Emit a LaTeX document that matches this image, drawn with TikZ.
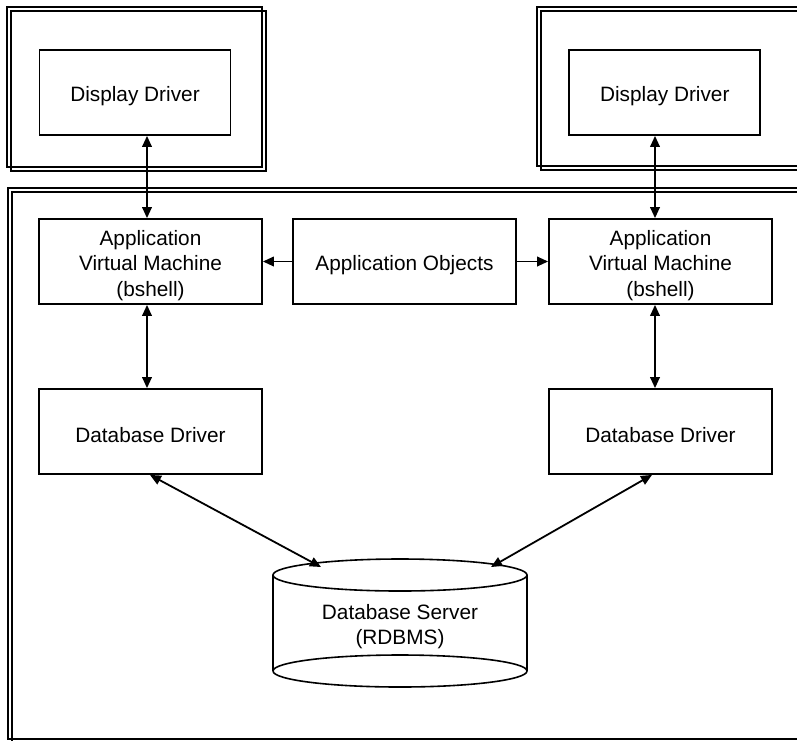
\documentclass[tikz,border=0pt]{standalone}
\usepackage{fontspec}
\setmainfont{Liberation Sans}
\usetikzlibrary{arrows.meta}
\begin{document}
\begin{tikzpicture}[x=0.5pt,y=-0.5pt,
  box/.style={draw,line width=0.9pt,fill=white,minimum width=111.5pt,minimum height=42.5pt,inner sep=0pt},
  ddbox/.style={box,minimum width=95.5pt},
  txt/.style={inner sep=0pt,align=center,font=\fontsize{10.4pt}{12.8pt}\selectfont,yshift=-1.9pt},
  frame/.style={draw,line width=0.8pt},
  tip/.tip={Triangle[length=5.5pt,width=4.8pt]},
  conn/.style={line width=0.9pt,tip-tip},
  oneway/.style={line width=0.9pt,-tip}]
\useasboundingbox (0,0) rectangle (797,740);
\fill[white] (0,0) rectangle (797,740);
\begin{scope}
\clip (0,0) rectangle (797,740);
% frames
\draw[frame] (7,7) rectangle (262,167);
\draw[frame] (11,11) rectangle (266,171);
\draw[frame] (537,7) rectangle (820,166);
\draw[frame] (541,11) rectangle (824,170);
\draw[frame] (8,188) rectangle (820,739);
\draw[frame] (12,192) rectangle (824,743);
\end{scope}
% boxes
\node[ddbox] (dd1) at (135,92.5) {};
\node[ddbox] (dd2) at (664.8,92.5) {};
\node[box] (avm1) at (150.5,261.5) {};
\node[box] (ao) at (404.5,261.5) {};
\node[box] (avm2) at (660.5,261.5) {};
\node[box] (db1) at (150.5,431.5) {};
\node[box] (db2) at (660.5,431.5) {};
% texts
\node[txt] (dd1t) at (dd1) {Display Driver};
\node[txt] (dd2t) at (dd2) {Display Driver};
\node[txt] (avm1t) at (avm1) {Application\\Virtual Machine\\(bshell)};
\node[txt] (aot) at (ao) {Application Objects};
\node[txt] (avm2t) at (avm2) {Application\\Virtual Machine\\(bshell)};
\node[txt] (db1t) at (db1) {Database Driver};
\node[txt] (db2t) at (db2) {Database Driver};
% cylinder
\draw[line width=0.8pt] (273,575) -- (273,671) (527,575) -- (527,671);
\draw[line width=0.8pt,fill=white] (400,575) ellipse [x radius=127, y radius=16];
\draw[line width=0.8pt] (273,671) arc[start angle=180,end angle=360,x radius=127,y radius=16];
\draw[line width=0.8pt] (273,671) arc[start angle=180,end angle=0,x radius=127,y radius=16];
\node[txt] (srv) at (400,623) {Database Server\\(RDBMS)};
\coordinate (srvl) at (321,567);
\coordinate (srvr) at (491,567);
% connectors
\draw[conn] (dd1.south -| 147,0) -- (avm1.north -| 147,0);
\draw[conn] (dd2.south -| 655,0) -- (avm2.north -| 655,0);
\draw[conn] (avm1.south -| 147,0) -- (db1.north -| 147,0);
\draw[conn] (avm2.south -| 655,0) -- (db2.north -| 655,0);
\draw[oneway] (ao.west) -- (avm1.east);
\draw[oneway] (ao.east) -- (avm2.east -| avm2.west);
\draw[conn] (db1.south -| 150,0) -- (srvl);
\draw[conn] (db2.south -| 652,0) -- (srvr);
\end{tikzpicture}
\end{document}
